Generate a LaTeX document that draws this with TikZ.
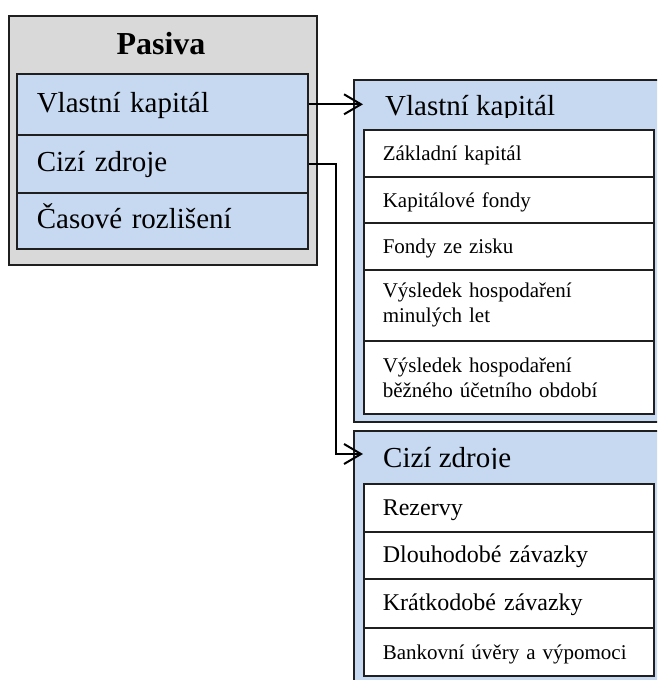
\documentclass[tikz,border=0pt]{standalone}
\usepackage{fontspec}
\setmainfont{Liberation Serif}
\usetikzlibrary{arrows.meta,calc}
\definecolor{paneblue}{HTML}{C6D9F1}
\definecolor{panegray}{HTML}{D9D9D9}
\definecolor{edge}{HTML}{1F1F1F}
\tikzset{
  frame/.style={draw=edge, line width=1.6pt, inner sep=0pt, anchor=north west},
  bigrow/.style={frame, fill=paneblue, text width=251pt, inner xsep=20pt,
    align=left, font=\fontsize{29}{34}\selectfont, text height=21pt, text depth=5pt},
  subrow/.style={frame, fill=white, text width=252pt, inner xsep=19pt, align=left},
  small/.style={font=\fontsize{21}{25}\selectfont},
  mid/.style={font=\fontsize{24}{28}\selectfont},
  single/.style={text height=19pt, text depth=4pt},
  panel/.style={frame, fill=paneblue, minimum width=317pt},
  headtext/.style={anchor=base west, inner sep=0pt, font=\fontsize{29}{34}\selectfont},
  conn/.style={draw=black, line width=2pt, -{Straight Barb[length=17pt,width=20pt]}}
}
\begin{document}
\begin{tikzpicture}[x=1pt,y=-1pt]
\clip (0,0) rectangle (657,680);

% left block: Pasiva with its three parts
\node[frame, fill=panegray, minimum width=308pt, minimum height=249pt] (pasiva) at (8,15) {};
\node[anchor=base, inner sep=0pt, font=\bfseries\fontsize{32}{38}\selectfont] (title) at (161,54) {Pasiva};
\node[bigrow, minimum height=61pt] (vk) at (16,73) {Vlastní kapitál};
\node[bigrow, minimum height=58pt] (cz) at (16,134) {Cizí zdroje};
\node[bigrow, minimum height=56pt] (cr) at (16,192) {Časové rozlišení};

% right panel: equity
\node[panel, minimum height=342pt] (vkbox) at (353,79) {};
\begin{scope}
  \clip (353,79) rectangle (670,117.5);
  \node[headtext] (vkhead) at (385,115) {Vlastní kapitál};
\end{scope}
\node[subrow, small, single, minimum height=47pt] (zk) at (363,129) {Základní kapitál};
\node[subrow, small, single, minimum height=46pt] (kf) at (363,176) {Kapitálové fondy};
\node[subrow, small, single, minimum height=47pt] (fz) at (363,222) {Fondy ze zisku};
\node[subrow, small, minimum height=71pt] (vhm) at (363,269) {Výsledek hospodaření\\minulých let};
\node[subrow, small, minimum height=73pt] (vhb) at (363,340) {Výsledek hospodaření\\běžného účetního období};

% right panel: liabilities
\node[panel, minimum height=260pt] (czbox) at (353,430) {};
\begin{scope}
  \clip (353,430) rectangle (670,468.5);
  \node[headtext] (czhead) at (383,467) {Cizí zdroje};
\end{scope}
\node[subrow, mid, single, minimum height=48pt] (rz) at (363,483) {Rezervy};
\node[subrow, mid, single, minimum height=47pt] (dz) at (363,531) {Dlouhodobé závazky};
\node[subrow, mid, single, minimum height=49pt] (kz) at (363,578) {Krátkodobé závazky};
\node[subrow, small, single, minimum height=48pt] (bu) at (363,627) {Bankovní úvěry a výpomoci};

% connectors
\coordinate (vktip) at ($(vkbox.west |- vk.east)+(10pt,0pt)$);
\coordinate (czbend) at ($(cz.east)+(27pt,0pt)$);
\coordinate (cztip) at ($(czbox.north west)+(10pt,-24pt)$);
\draw[conn] (vk.east) -- (vktip);
\draw[conn] (cz.east) -- (czbend) |- (cztip);
\end{tikzpicture}
\end{document}
